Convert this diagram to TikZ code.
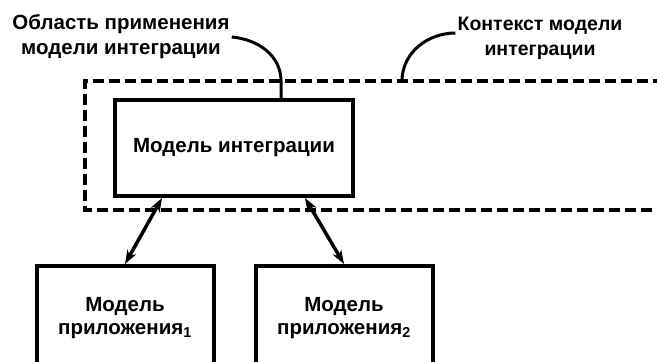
\documentclass[tikz,border=0pt]{standalone}
\usepackage{fontspec}
\setmainfont{Liberation Sans}
\usetikzlibrary{arrows.meta}
\tikzset{box/.style={draw,line width=4pt,align=center,inner sep=0pt,font=\bfseries\fontsize{20.5}{23}\selectfont},
 ctxline/.style={line width=3.2pt,dash pattern=on 11pt off 5pt},
 callout/.style={line width=3pt},
 link/.style={line width=3.5pt,{Stealth[length=14pt,width=10pt]}-{Stealth[length=14pt,width=10pt]}},
 note/.style={align=center,inner sep=2pt,font=\bfseries\fontsize{20.5}{25}\selectfont}}
\begin{document}
\begin{tikzpicture}[x=1pt,y=-1pt]
\useasboundingbox (0,0) rectangle (657,362);
\clip (0,0) rectangle (657,362);
\coordinate (ctxTL) at (85,81);
\coordinate (ctxBL) at (85,210);
\coordinate (ctxfoot) at (402,81);
\draw[ctxline] (680,81) -- (ctxTL) -- (ctxBL) -- (680,210);
\node[box,minimum width=238pt,minimum height=96pt] (intmod) at (234,148) {Модель интеграции};
\node[box,minimum width=177pt,minimum height=104pt] (app1) at (125,318) {Модель\\приложения\textsubscript{1}};
\node[box,minimum width=177pt,minimum height=104pt] (app2) at (344,318) {Модель\\приложения\textsubscript{2}};
\node[note] (scope) at (121,37) {Область применения\\модели интеграции};
\node[note,font=\bfseries\fontsize{19.5}{25}\selectfont] (ctxnote) at (540,38) {Контекст модели\\интеграции};
\draw[callout] (scope.east) to[out=-5,in=90] ([xshift=47pt]intmod.north |- ctxTL) -- ([xshift=47pt]intmod.north);
\draw[callout] ([yshift=5pt]ctxnote.west) to[out=180,in=90] (ctxfoot);
\draw[link] ([xshift=-72pt]intmod.south) -- (app1.north);
\draw[link] ([xshift=71pt]intmod.south) -- (app2.north);
\end{tikzpicture}
\end{document}
